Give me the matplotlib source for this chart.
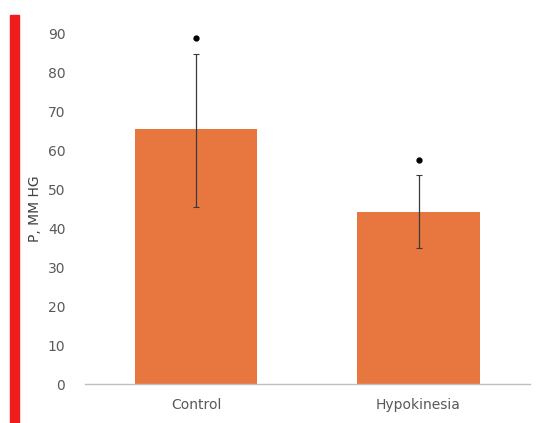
import matplotlib
matplotlib.use('Agg')
import matplotlib.pyplot as plt
from matplotlib.patches import Rectangle

# data
groups   = ['Control', 'Hypokinesia']
means    = [65.5, 44.3]
err_lo   = [45.5, 35.0]
err_hi   = [84.7, 53.8]
star_y   = [89.0, 57.5]
yticks   = [0, 10, 20, 30, 40, 50, 60, 70, 80, 90]

fig = plt.figure(figsize=(5.4, 4.23), dpi=100)
ax = fig.add_axes([0.157, 0.092, 0.824, 0.828])

x = range(len(groups))
ax.bar(x, means, width=0.55, color='#E8773F', zorder=2)

lower = [m - lo for m, lo in zip(means, err_lo)]
upper = [hi - m for m, hi in zip(means, err_hi)]
ax.errorbar(x, means, yerr=[lower, upper], fmt='none', ecolor='#3a3a3a',
            elinewidth=0.9, capsize=2, capthick=0.8, zorder=3)

for xi, sy in zip(x, star_y):
    ax.plot(xi, sy, marker='o', ms=3.5, color='black', clip_on=False, zorder=4)

ax.set_xlim(-0.5, 1.5)
ax.set_ylim(0, 90)
ax.set_yticks(yticks)
ax.set_xticks(list(x))
ax.set_xticklabels(groups)
ax.tick_params(axis='both', length=0, colors='#595959', labelsize=10)
ax.tick_params(axis='y', pad=14)
ax.tick_params(axis='x', pad=10)

for s in ['top', 'right', 'left']:
    ax.spines[s].set_visible(False)
ax.spines['bottom'].set_color('#bfbfbf')
ax.spines['bottom'].set_linewidth(1)

ax.set_ylabel('P, MM HG', color='#404040', fontsize=10, labelpad=4)

# red stripe on the left edge
fig.patches.append(Rectangle((10 / 540, 0), 9 / 540, (423 - 15) / 423,
                             transform=fig.transFigure, color='#EE1C1C'))

fig.savefig('out.png', dpi=100)
